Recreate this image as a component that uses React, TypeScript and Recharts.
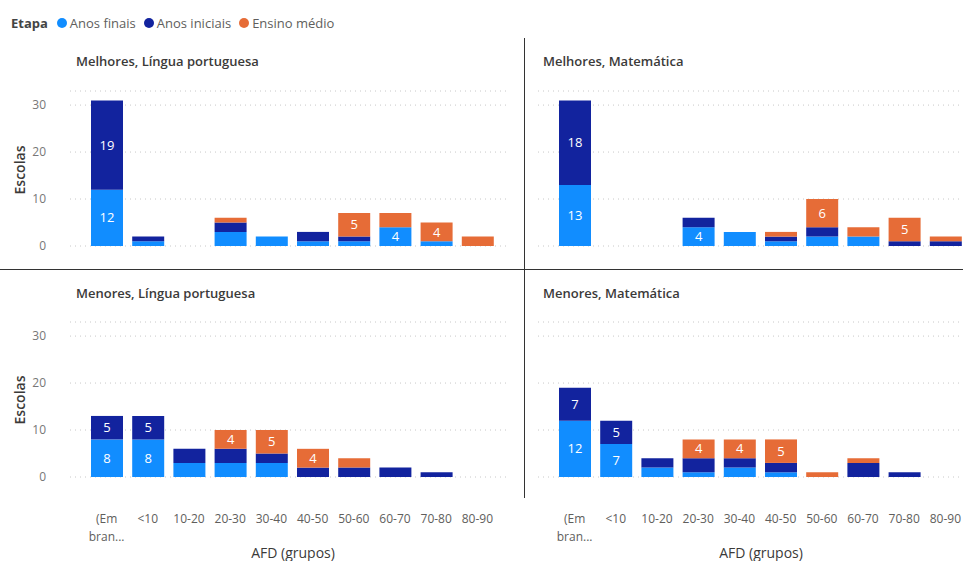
import React from "react";
import { BarChart, Bar, XAxis, YAxis, CartesianGrid, LabelList } from "recharts";

const categories = ["(Em branco)", "<10", "10-20", "20-30", "30-40", "40-50", "50-60", "60-70", "70-80", "80-90"];
const yTicks = [0, 10, 20, 30];

// Melhores, Língua portuguesa
const melhoresLpFinais = [12, 1, 0, 3, 2, 1, 1, 4, 1, 0];
const melhoresLpIniciais = [19, 1, 0, 2, 0, 2, 1, 0, 0, 0];
const melhoresLpMedio = [0, 0, 0, 1, 0, 0, 5, 3, 4, 2];

// Melhores, Matemática
const melhoresMatFinais = [13, 0, 0, 4, 3, 1, 2, 2, 0, 0];
const melhoresMatIniciais = [18, 0, 0, 2, 0, 1, 2, 0, 1, 1];
const melhoresMatMedio = [0, 0, 0, 0, 0, 1, 6, 2, 5, 1];

// Menores, Língua portuguesa
const menoresLpFinais = [8, 8, 3, 3, 3, 0, 0, 0, 0, 0];
const menoresLpIniciais = [5, 5, 3, 3, 2, 2, 2, 2, 1, 0];
const menoresLpMedio = [0, 0, 0, 4, 5, 4, 2, 0, 0, 0];

// Menores, Matemática
const menoresMatFinais = [12, 7, 2, 1, 2, 1, 0, 0, 0, 0];
const menoresMatIniciais = [7, 5, 2, 3, 2, 2, 0, 3, 1, 0];
const menoresMatMedio = [0, 0, 0, 4, 4, 5, 1, 1, 0, 0];

const COLORS = { finais: "#118DFF", iniciais: "#12239E", medio: "#E66C37" };
const FONT = "'Open Sans', 'Noto Sans', sans-serif";

function buildRows(finais: number[], iniciais: number[], medio: number[]) {
  return categories.map((name, i) => ({ name, finais: finais[i], iniciais: iniciais[i], medio: medio[i] }));
}

const panels = [
  { key: "mlp", title: "Melhores, Língua portuguesa", rows: buildRows(melhoresLpFinais, melhoresLpIniciais, melhoresLpMedio), left: 0, top: 86, bottomRow: false, leftCol: true },
  { key: "mmat", title: "Melhores, Matemática", rows: buildRows(melhoresMatFinais, melhoresMatIniciais, melhoresMatMedio), left: 530, top: 86, bottomRow: false, leftCol: false },
  { key: "nlp", title: "Menores, Língua portuguesa", rows: buildRows(menoresLpFinais, menoresLpIniciais, menoresLpMedio), left: 0, top: 317, bottomRow: true, leftCol: true },
  { key: "nmat", title: "Menores, Matemática", rows: buildRows(menoresMatFinais, menoresMatIniciais, menoresMatMedio), left: 530, top: 317, bottomRow: true, leftCol: false },
];

function CategoryTick(props: any) {
  const { x, y, payload } = props;
  const label = String(payload.value);
  const parts = label.includes(" ") ? [label.split(" ")[0], label.split(" ")[1].slice(0, 4) + "..."] : [label];
  return (
    <text x={x} y={y} textAnchor="middle" fill="#605E5C" fontSize={12} fontFamily={FONT}>
      {parts.map((p, i) => (
        <tspan key={i} x={x} dy={i === 0 ? "0.71em" : 18}>{p}</tspan>
      ))}
    </text>
  );
}

const showBig = (v: any) => (Number(v) >= 4 ? v : "");

function Panel({ p }: { p: (typeof panels)[number] }) {
  const width = p.leftCol ? 508 : 446;
  // plot area is 155px tall in every panel
  const height = p.bottomRow ? 232 : 172;
  return (
    <div style={{ position: "absolute", left: p.left, top: p.top }}>
      <BarChart
        width={width}
        height={height}
        data={p.rows}
        barSize={32}
        margin={{ top: 5, right: 0, bottom: p.bottomRow ? 25 : 12, left: p.leftCol ? 0 : 8 }}
      >
        <CartesianGrid vertical={false} stroke="#c8c8c8" strokeDasharray="1 4" />
        <XAxis
          dataKey="name"
          hide={!p.bottomRow}
          axisLine={false}
          tickLine={false}
          interval={0}
          height={47}
          tickMargin={31}
          tick={<CategoryTick />}
          padding={{ left: 16, right: 10 }}
        />
        <YAxis
          hide={!p.leftCol}
          width={70}
          domain={[0, 33]}
          ticks={yTicks}
          axisLine={false}
          tickLine={false}
          tickMargin={18}
          tick={{ fill: "#777", fontSize: 12, fontFamily: FONT }}
        />
        <Bar dataKey="finais" stackId="a" fill={COLORS.finais} isAnimationActive={false}>
          <LabelList dataKey="finais" position="center" fill="#fff" fontSize={13} fontFamily={FONT} formatter={showBig} />
        </Bar>
        <Bar dataKey="iniciais" stackId="a" fill={COLORS.iniciais} isAnimationActive={false}>
          <LabelList dataKey="iniciais" position="center" fill="#fff" fontSize={13} fontFamily={FONT} formatter={showBig} />
        </Bar>
        <Bar dataKey="medio" stackId="a" fill={COLORS.medio} isAnimationActive={false}>
          <LabelList dataKey="medio" position="center" fill="#fff" fontSize={13} fontFamily={FONT} formatter={showBig} />
        </Bar>
      </BarChart>
    </div>
  );
}

const legendItems = [
  { label: "Anos finais", color: COLORS.finais },
  { label: "Anos iniciais", color: COLORS.iniciais },
  { label: "Ensino médio", color: COLORS.medio },
];

export default function App() {
  return (
    <div style={{ position: "absolute", left: 0, top: 0, width: 963, height: 561, overflow: "hidden", background: "#fff", fontFamily: FONT, color: "#252423" }}>
      <div style={{ position: "absolute", left: 11, top: 14, display: "flex", alignItems: "center", fontSize: 13, color: "#605E5C" }}>
        <span style={{ fontWeight: 700, color: "#444", marginRight: 9 }}>Etapa</span>
        {legendItems.map((it) => (
          <span key={it.label} style={{ display: "flex", alignItems: "center", marginRight: 8 }}>
            <span style={{ width: 10, height: 10, borderRadius: 5, background: it.color, marginRight: 3 }} />
            {it.label}
          </span>
        ))}
      </div>

      {panels.map((p) => (
        <div key={p.key + "-t"} style={{ position: "absolute", left: p.left + (p.leftCol ? 76 : 13), top: p.bottomRow ? 284 : 52, fontSize: 13, fontWeight: 600, color: "#3b3a39" }}>
          {p.title}
        </div>
      ))}

      {[170, 400].map((cy) => (
        <div key={cy} style={{ position: "absolute", left: 19, top: cy, transform: "translate(-50%, -50%) rotate(-90deg)", fontSize: 14, fontWeight: 600, color: "#3b3a39", whiteSpace: "nowrap" }}>
          Escolas
        </div>
      ))}

      {[293, 761].map((cx) => (
        <div key={cx} style={{ position: "absolute", left: cx, top: 552, transform: "translate(-50%, -50%)", fontSize: 14, color: "#3b3a39", whiteSpace: "nowrap" }}>
          AFD (grupos)
        </div>
      ))}

      <div style={{ position: "absolute", left: 524, top: 38, width: 1, height: 460, background: "#333" }} />
      <div style={{ position: "absolute", left: 0, top: 269, width: 963, height: 1, background: "#333" }} />

      {panels.map((p) => (
        <Panel key={p.key} p={p} />
      ))}
    </div>
  );
}
